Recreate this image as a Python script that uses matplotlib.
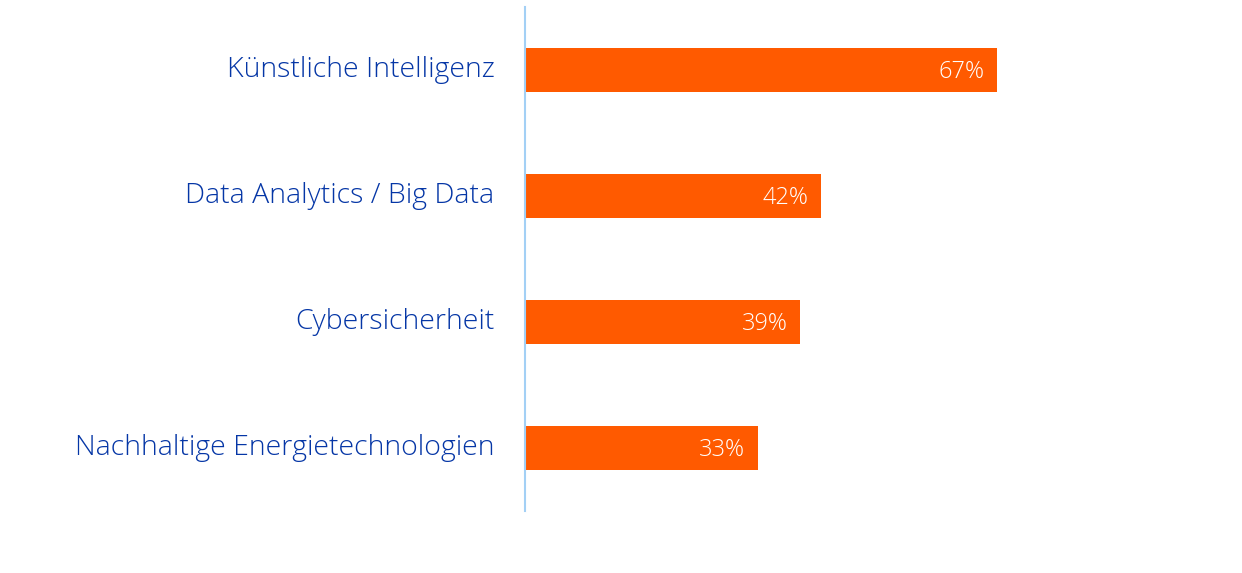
import matplotlib
matplotlib.use('Agg')
import matplotlib.pyplot as plt
import matplotlib.transforms as mtransforms

categories = ["Künstliche Intelligenz", "Data Analytics / Big Data",
              "Cybersicherheit", "Nachhaltige Energietechnologien"]
values = [67, 42, 39, 33]

ORANGE = "#FF5A00"
BLUE = "#0536A6"
AXIS = "#A3D0F5"

plt.rcParams['font.family'] = ['Open Sans', 'DejaVu Sans']

fig = plt.figure(figsize=(12.42, 5.73), dpi=100)
ax = fig.add_axes([525 / 1242, 1 - 511 / 573, 705 / 1242, 504 / 573])

y = list(range(len(categories)))
ax.barh(y, values, height=0.35, color=ORANGE, left=0)
ax.set_ylim(len(categories) - 0.5, -0.5)
ax.set_xlim(0, 100)

# value labels, nudged down a little
val_tr = mtransforms.offset_copy(ax.transData, fig=fig, x=1, y=-2, units='dots')
for yi, v in zip(y, values):
    ax.text(v - 1.9, yi, f"{v}%", ha='right', va='center', color='white',
            fontsize=17, fontweight='light', transform=val_tr)

ax.set_yticks(y)
ax.set_yticklabels(categories, color=BLUE, fontsize=20.5, fontweight='light')
ax.tick_params(axis='y', length=0, pad=22)
shift = mtransforms.ScaledTranslation(0, 3 / 100, fig.dpi_scale_trans)
for lbl in ax.get_yticklabels():
    lbl.set_transform(lbl.get_transform() + shift)
ax.set_xticks([])

for side in ['top', 'right', 'bottom']:
    ax.spines[side].set_visible(False)
ax.spines['left'].set_color(AXIS)
ax.spines['left'].set_linewidth(1.5)

fig.savefig("out.png", dpi=100, facecolor='white')
